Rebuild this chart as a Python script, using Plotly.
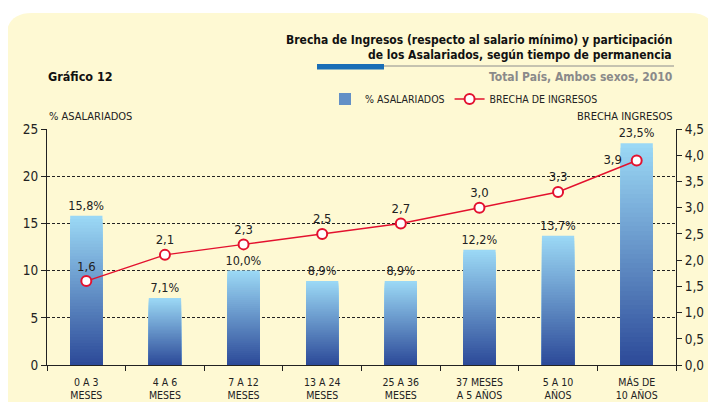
import plotly.graph_objects as go

# ---------------- data ----------------
categories = ["0 A 3<br>MESES", "4 A 6<br>MESES", "7 A 12<br>MESES", "13 A 24<br>MESES",
              "25 A 36<br>MESES", "37 MESES<br>A 5 AÑOS", "5 A 10<br>AÑOS", "MÁS DE<br>10 AÑOS"]
asalariados = [15.8, 7.1, 10.0, 8.9, 8.9, 12.2, 13.7, 23.5]
brecha = [1.6, 2.1, 2.3, 2.5, 2.7, 3.0, 3.3, 3.9]
left_ticks = [0, 5, 10, 15, 20, 25]
right_ticks = [0.0, 0.5, 1.0, 1.5, 2.0, 2.5, 3.0, 3.5, 4.0, 4.5]

# ---------------- layout constants (window pixels) ----------------
WIN_W, WIN_H = 716, 402
OFF = 8                       # default page body margin
W, H = WIN_W, WIN_H           # figure overflows the window by OFF (clipped)
L, R, T, B = 47, 676, 129, 365  # plot area in window px
FONT = "DejaVu Sans Condensed, Liberation Sans Narrow, Arial Narrow, sans-serif"
BG = "#fef9d3"
RED = "#e3112e"
LIGHT = (156, 217, 246)
DARK = (44, 74, 152)


def fx(p):
    return (p - L) / (R - L)


def fy(p):
    return (B - p) / (B - T)


def fmt(v, d=1):
    return f"{v:.{d}f}".replace(".", ",")


fig = go.Figure()

# gradient bars: overlayed bars of decreasing height
N = 48
for k in range(N):
    frac = (N - k) / N
    mid = (N - k - 0.5) / N
    c = tuple(round(DARK[i] + (LIGHT[i] - DARK[i]) * mid) for i in range(3))
    fig.add_trace(go.Bar(
        x=categories,
        y=[v * frac for v in asalariados],
        width=0.41,
        marker=dict(color=f"rgb{c}", line=dict(width=0)),
        name="% ASALARIADOS",
        showlegend=(k == N // 2),
        legendrank=1,
        text=[fmt(v) + "%" for v in asalariados] if k == 0 else None,
        textposition="outside" if k == 0 else None,
        constraintext="none",
        textfont=dict(family=FONT, size=12.5, color="#222"),
        cliponaxis=False,
        hoverinfo="skip" if k else None,
    ))

# line
positions = ["top center"] * (len(brecha) - 1) + ["middle left"]
labels = [fmt(v) for v in brecha]
labels[-1] = labels[-1] + "\u00a0\u00a0"
fig.add_trace(go.Scatter(
    x=categories, y=brecha, yaxis="y2",
    mode="lines+markers+text",
    name="BRECHA DE INGRESOS",
    legendrank=2,
    line=dict(color=RED, width=1.5),
    marker=dict(size=10, color="white", line=dict(color=RED, width=2)),
    text=labels,
    textposition=positions,
    textfont=dict(family=FONT, size=13, color="#222"),
    cliponaxis=False,
))

# background rounded panel
x0, x1, y0, y1, r = 6, 716, 13, 420, 26
path = (f"M {fx(x0)},{fy(y1)} L {fx(x0)},{fy(y0 + r)} "
        f"Q {fx(x0)},{fy(y0)} {fx(x0 + r)},{fy(y0)} "
        f"L {fx(x1 - r)},{fy(y0)} Q {fx(x1)},{fy(y0)} {fx(x1)},{fy(y0 + r)} "
        f"L {fx(x1)},{fy(y1)} Z")
shapes = [
    dict(type="path", path=path, xref="paper", yref="paper", fillcolor=BG,
         line=dict(width=0), layer="below"),
    dict(type="line", xref="paper", yref="paper", x0=fx(317), x1=fx(674), y0=fy(66), y1=fy(66),
         line=dict(color="#8c8c8c", width=1)),
    dict(type="rect", xref="paper", yref="paper", x0=fx(317), x1=fx(384), y0=fy(64), y1=fy(69.5),
         fillcolor="#1a6eb6", line=dict(width=0)),
]

annotations = [
    dict(text="<b>Brecha de Ingresos (respecto al salario mínimo) y participación</b>",
         x=fx(674), y=fy(40), xanchor="right", yanchor="middle",
         font=dict(family=FONT, size=12, color="#111")),
    dict(text="<b>de los Asalariados, según tiempo de permanencia</b>",
         x=fx(674), y=fy(55), xanchor="right", yanchor="middle",
         font=dict(family=FONT, size=12, color="#111")),
    dict(text="<b>Total País, Ambos sexos, 2010</b>",
         x=fx(674), y=fy(77), xanchor="right", yanchor="middle",
         font=dict(family=FONT, size=12, color="#8a8a8a")),
    dict(text="<b>Gráfico 12</b>",
         x=fx(46), y=fy(77), xanchor="left", yanchor="middle",
         font=dict(family=FONT, size=12.5, color="#111")),
    dict(text="% ASALARIADOS",
         x=fx(47), y=fy(117), xanchor="left", yanchor="middle",
         font=dict(family=FONT, size=11, color="#222")),
    dict(text="BRECHA INGRESOS",
         x=fx(675), y=fy(117), xanchor="right", yanchor="middle",
         font=dict(family=FONT, size=11, color="#222")),
]
for a in annotations:
    a.update(xref="paper", yref="paper", showarrow=False)

fig.update_layout(
    width=W, height=H,
    margin=dict(l=L - OFF, r=W + OFF - R, t=T - OFF, b=H + OFF - B),
    paper_bgcolor="white",
    plot_bgcolor="rgba(0,0,0,0)",
    barmode="overlay",
    separators=",.",
    font=dict(family=FONT, size=13, color="#333"),
    shapes=shapes,
    annotations=annotations,
    showlegend=True,
    legend=dict(orientation="h", x=fx(325), y=fy(99), xanchor="left", yanchor="middle",
                font=dict(family=FONT, size=10.5, color="#222"), bgcolor="rgba(0,0,0,0)",
                itemwidth=30, traceorder="normal"),
    xaxis=dict(type="category", range=[-0.5, 7.5], showline=True, linecolor="#222",
               linewidth=1, ticks="outside", tickson="boundaries", ticklen=5,
               tickcolor="#222", tickfont=dict(family=FONT, size=10.5, color="#222"),
               ticklabelstandoff=7, showgrid=False, automargin=False),
    yaxis=dict(range=[0, 25], tickvals=left_ticks, showline=True, linecolor="#222",
               ticks="outside", ticklen=5, tickcolor="#222", showgrid=True,
               gridcolor="#222", griddash="3px,2px", gridwidth=1, zeroline=False,
               automargin=False, tickfont=dict(family=FONT, size=13.5, color="#222")),
    yaxis2=dict(range=[0, 4.5], tickvals=right_ticks, tickformat=".1f", overlaying="y",
                side="right", showline=True, linecolor="#222", ticks="outside",
                ticklen=5, tickcolor="#222", showgrid=False, zeroline=False,
                automargin=False, tickfont=dict(family=FONT, size=13.5, color="#222")),
)

fig.write_html("out.html")
